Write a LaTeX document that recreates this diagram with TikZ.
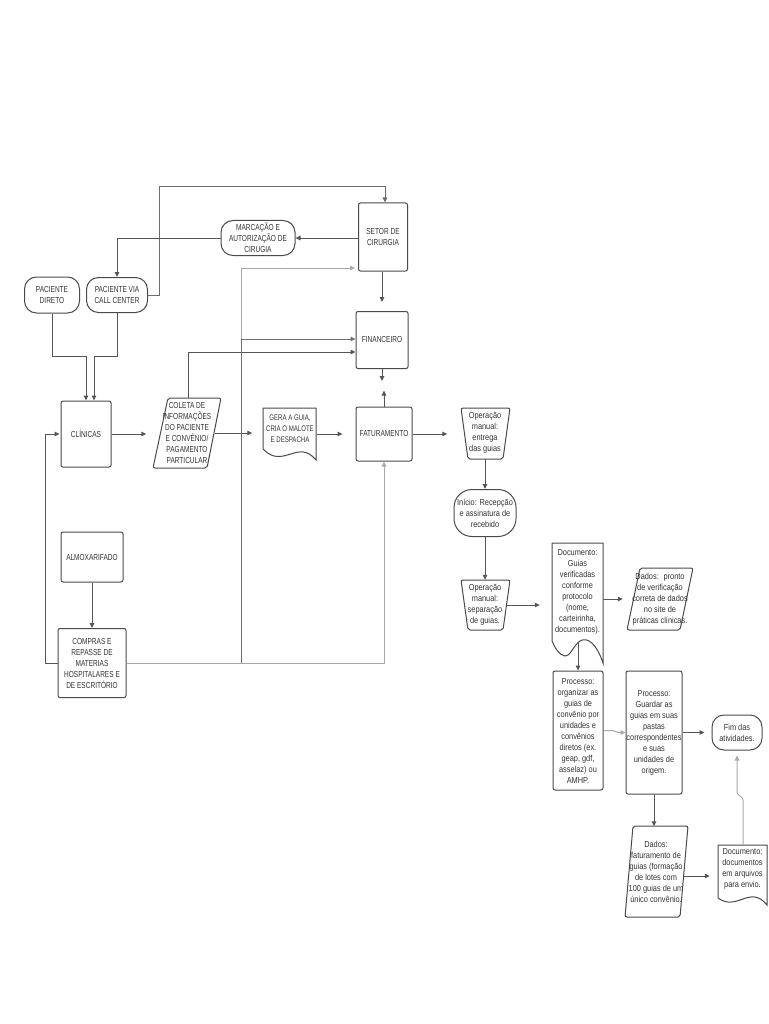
\documentclass[tikz,border=0pt]{standalone}
\usepackage{fontspec}
\newfontfamily\capsf[FakeStretch=0.75]{Liberation Sans}
\newfontfamily\lowf[FakeStretch=0.85]{Liberation Sans}
\usetikzlibrary{arrows.meta,calc}
\definecolor{boxc}{HTML}{4A4A4A}
\definecolor{txtc}{HTML}{333333}
\definecolor{linec}{HTML}{555555}
\definecolor{midc}{HTML}{6E6E6E}
\definecolor{lightc}{HTML}{A8A8A8}
\tikzset{
  bx/.style={draw=boxc, line width=1pt, align=center, text=txtc, inner sep=0pt},
  proc/.style={bx, rounded corners=2pt},
  stad/.style={bx, rounded corners=12pt},
  lbl/.style={align=center, text=txtc, inner sep=0pt},
  shp/.style={draw=boxc, line width=1pt, fill=white, rounded corners=2pt},
  docshp/.style={draw=boxc, line width=1pt, fill=white},
  capt/.style={font=\capsf\fontsize{8.7}{11}\selectfont},
  capsm/.style={font=\capsf\fontsize{8.1}{11}\selectfont},
  lowt/.style={font=\lowf\fontsize{8.7}{11}\selectfont},
  arr/.style={draw=linec, line width=1pt, -{Triangle[length=5pt,width=4.5pt]}},
  arrm/.style={arr, draw=midc},
  arrl/.style={arr, draw=lightc},
}
\begin{document}
\begin{tikzpicture}[x=1pt,y=-1pt]
\useasboundingbox[fill=white] (0,0) rectangle (768,1024);

% ---------- shapes drawn as paths ----------
\draw[shp] (168,398) -- (221,398) -- (207,468) -- (153,468) -- cycle;
\draw[docshp] (263,408) -- (316,408) -- (316,460) .. controls (298,438) and (283,470) .. (263,449) -- cycle;
\draw[shp] (461,408) -- (510,408) -- (503,459) -- (468,459) -- cycle;
\draw[shp] (461,580) -- (510,580) -- (503,630) -- (468,630) -- cycle;
\draw[docshp] (552,543) -- (603,543) -- (603,663) .. controls (597,645) and (588,636) .. (580,641)
   .. controls (573,646) and (570,657) .. (565,656) .. controls (559,655) and (555,648) .. (552,641) -- cycle;
\draw[shp] (640,568) -- (693,568) -- (680,630) -- (627,630) -- cycle;
\draw[shp] (633,826) -- (688,826) -- (680,917) -- (625,917) -- cycle;
\draw[docshp] (718,845) -- (767,845) -- (767,905) .. controls (750,884) and (737,912) .. (718,898) -- cycle;

% ---------- nodes ----------
\node[stad, capt, minimum width=55pt, minimum height=36pt] (pdir) at (52,295) {PACIENTE\\DIRETO};
\node[stad, capt, minimum width=61pt, minimum height=35pt] (callc) at (117,295) {PACIENTE VIA\\CALL CENTER};
\node[stad, capt, minimum width=74pt, minimum height=35pt] (marc) at (258,238) {MARCAÇÃO E\\AUTORIZAÇÃO DE\\CIRUGIA};
\node[proc, capt, minimum width=49pt, minimum height=68pt] (setor) at (383,237) {SETOR DE\\CIRURGIA};
\node[proc, capt, minimum width=52pt, minimum height=57pt] (fin) at (382,340) {FINANCEIRO};
\node[proc, capt, minimum width=56pt, minimum height=54pt] (fat) at (384,434) {FATURAMENTO};
\node[proc, capt, minimum width=50pt, minimum height=66pt] (clin) at (86,434) {CLÍNICAS};
\node[lbl, capt, minimum width=69pt, minimum height=70pt] (coleta) at (187,433) {COLETA DE\\INFORMAÇÕES\\DO PACIENTE\\E CONVÊNIO/\\PAGAMENTO\\PARTICULAR};
\node[lbl, capsm, minimum width=53pt, minimum height=40pt] (gera) at (290,429) {GERA A GUIA,\\CRIA O MALOTE\\E DESPACHA};
\node[proc, capt, minimum width=62pt, minimum height=50pt] (almox) at (92,557) {ALMOXARIFADO};
\node[proc, capt, minimum width=68pt, minimum height=69pt] (compras) at (92,663) {COMPRAS E\\REPASSE DE\\MATERIAS\\HOSPITALARES E\\DE ESCRITÓRIO};

\node[lbl, lowt, minimum width=49pt, minimum height=51pt] (entrega) at (485,433) {Operação\\manual:\\entrega\\das guias};
\node[stad, lowt, rounded corners=18pt, minimum width=62pt, minimum height=47pt] (inicio) at (485,513) {Início: Recepção\\e assinatura de\\recebido};
\node[lbl, lowt, minimum width=49pt, minimum height=50pt] (separ) at (485,605) {Operação\\manual:\\separação\\de guias.};
\node[lbl, lowt, minimum width=51pt, minimum height=100pt] (docg) at (577.5,592) {Documento:\\Guias\\verificadas\\conforme\\protocolo\\(nome,\\carteirinha,\\documentos).};
\node[lbl, lowt, minimum width=66pt, minimum height=62pt] (dados) at (660,599) {Dados:~ pronto\\de verificação\\correta de dados\\no site de\\práticas clínicas.};
\node[proc, lowt, minimum width=50pt, minimum height=119pt] (org) at (578,730.5) {Processo:\\organizar as\\guias de\\convênio por\\unidades e\\convênios\\diretos (ex.\\geap, gdf,\\asselaz) ou\\AMHP.};
\node[proc, lowt, minimum width=56pt, minimum height=123pt] (guard) at (654,732.5) {Processo:\\Guardar as\\guias em suas\\pastas\\correspondentes\\e suas\\unidades de\\origem.};
\node[stad, lowt, minimum width=50pt, minimum height=35pt] (fim) at (737,732.5) {Fim das\\atividades.};
\node[lbl, lowt, minimum width=63pt, minimum height=91pt] (dfat) at (656,872) {Dados:\\faturamento de\\guias (formação\\de lotes com\\100 guias de um\\único convênio.};
\node[lbl, lowt, minimum width=49pt, minimum height=46pt] (doc2) at (742.5,869) {Documento:\\documentos\\em arquivos\\para envio.};

\coordinate (finend) at ($(fin.south)+(0,12)$);
\coordinate (fatend) at ($(fat.north)+(0,-16)$);
\coordinate (colout) at ($(coleta.east)+(-7,0)$);
\coordinate (dfout) at ($(dfat.east)+(-4,4)$);
\coordinate (sepout) at ($(separ.east)+(-3,0)$);
\coordinate (doc2top) at (743,845);

% ---------- connectors ----------
\draw[arr] (pdir.south) -- ++(0,43) -| (clin.north);
\draw[arr] (callc.south) -- ++(0,43) -| ($(clin.north)+(8,0)$);
\draw[arrm] (callc.east) -| (159,187) -| ($(setor.north)+(2,0)$);
\draw[arr] (setor.west |- marc.east) -- (marc.east);
\draw[arr] (marc.west) -| (callc.north);
\draw[arr, shorten >=9pt] (fin.north |- setor.south) -- (fin.north);
\draw[arr] (fin.south) -- (finend);
\draw[arr] (fat.north) -- (fatend);
\draw[arr, shorten >=6pt] (clin.east) -- (clin.east -| coleta.west);
\draw[arr, shorten >=11pt] (colout) -- (colout -| gera.west);
\draw[arr, shorten >=13pt] (fat.west -| gera.east) -- (fat.west);
\draw[arr, shorten >=13pt] (fat.east) -- (fat.east -| entrega.west);
\draw[arr] ($(coleta.north)+(1,0)$) |- ($(fin.west)+(0,12)$);
\draw[arrl, shorten >=3pt] (compras.east) -- ++(115,0) |- ($(setor.west)+(0,31)$);
\draw[arrm] (compras.east) -- ++(115,0) |- ($(fin.west)+(0,-1)$);
\draw[arrl] (compras.east) -| (fat.south);
\draw[arr, shorten >=1pt] (compras.west) -- ++(-12,0) |- (clin.west);
\draw[arr] (almox.south) -- (compras.north);

\draw[arr] (entrega.south) -- (inicio.north);
\draw[arr] (inicio.south) -- (separ.north);
\draw[arr, shorten >=12pt] (sepout) -- (sepout -| docg.west);
\draw[arr, shorten >=4pt] (docg.east |- dados.west) -- (dados.west);
\draw[arr] (org.north |- docg.south) -- (org.north);
\draw[arrl] (org.east) -- ++(9,0) to[out=0,in=180] ++(6,2) -- (guard.west);
\draw[arr, shorten >=7pt] (guard.east) -- (guard.east -| fim.west);
\draw[arr] (guard.south) -- (guard.south |- dfat.north);
\draw[arr, shorten >=8pt] (dfout) -- (dfout -| doc2.west);
\draw[arrl, shorten >=5pt] (doc2top) -- ++(0,-45) to[out=90,in=-90] ++(-6,-8) -- (fim.south);
\end{tikzpicture}
\end{document}
